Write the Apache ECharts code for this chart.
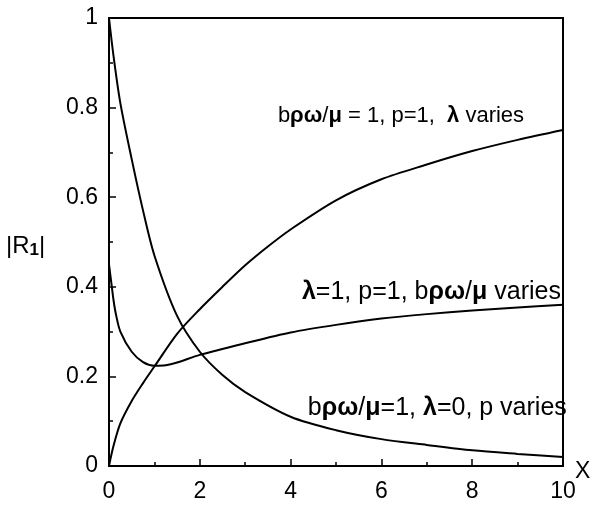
<!DOCTYPE html>
<html>
<head>
<meta charset="utf-8">
<script src="https://cdn.jsdelivr.net/npm/echarts@6/dist/echarts.min.js"></script>
<style>
  html, body { margin: 0; padding: 0; background: #fff; }
  #main { width: 591px; height: 506px; }
</style>
</head>
<body>
<div id="main"></div>
<script>
// curve: bρω/μ = 1, p=1, λ varies
var lambdaX = [0, 0.1, 0.25, 0.5, 0.75, 1, 1.5, 2, 2.5, 3, 3.5, 4, 5, 6, 7, 8, 9, 10];
var lambdaY = [0, 0.045, 0.095, 0.145, 0.185, 0.222, 0.295, 0.35, 0.4, 0.448, 0.49, 0.528, 0.593, 0.64, 0.673, 0.703, 0.728, 0.75];

// curve: λ=1, p=1, bρω/μ varies
var bX = [0, 0.05, 0.1, 0.15, 0.25, 0.5, 0.75, 1, 1.25, 1.5, 2, 3, 4, 5, 6, 7, 8, 9, 10];
var bY = [0.45, 0.41, 0.37, 0.34, 0.3, 0.255, 0.232, 0.224, 0.225, 0.231, 0.248, 0.274, 0.298, 0.315, 0.329, 0.339, 0.347, 0.354, 0.36];

// curve: bρω/μ=1, λ=0, p varies
var pX = [0, 0.1, 0.25, 0.5, 0.75, 1, 1.5, 2, 2.5, 3, 4, 5, 6, 7, 8, 9, 10];
var pY = [1, 0.915, 0.81, 0.685, 0.57, 0.47, 0.335, 0.255, 0.203, 0.165, 0.11, 0.08, 0.06, 0.047, 0.035, 0.027, 0.02];

// annotation texts, their font size and where they sit (data units: left edge, vertical centre)
var noteText = [
  'b{g|ρω}/{g|μ} = 1, p=1,  {g|λ} varies',
  '{g|λ}=1, p=1, b{g|ρω}/{g|μ} varies',
  'b{g|ρω}/{g|μ}=1, {g|λ}=0, p varies'
];
var noteSize = [22, 25, 25];
var notePos = [[3.72, 0.781], [4.25, 0.388], [4.38, 0.129]];

function pairs(xs, ys) {
  var out = [];
  for (var i = 0; i < xs.length; i++) {
    out.push([xs[i], ys[i]]);
  }
  return out;
}

var FONT = '"Liberation Sans", Arial, Helvetica, sans-serif';

var myChart = echarts.init(document.getElementById('main'), null, { renderer: 'canvas' });

function lineSeries(data) {
  return {
    type: 'line',
    data: data,
    smooth: 0.3,
    showSymbol: false,
    silent: true,
    lineStyle: { color: '#000', width: 2 }
  };
}

var option = {
  animation: false,
  backgroundColor: '#fff',
  grid: {
    left: 109, right: 28, top: 18, bottom: 40,
    show: true, borderColor: '#000', borderWidth: 2, backgroundColor: 'transparent'
  },
  xAxis: {
    type: 'value',
    min: 0, max: 10, interval: 2,
    axisLine: { show: true, lineStyle: { color: '#000', width: 2 } },
    axisTick: { show: true, inside: true, length: 7, lineStyle: { color: '#000', width: 1.5 } },
    minorTick: { show: true, splitNumber: 2, length: 4, lineStyle: { color: '#000', width: 1.5 } },
    splitLine: { show: false },
    axisLabel: { color: '#000', fontSize: 23, fontFamily: FONT, margin: 14 }
  },
  yAxis: {
    type: 'value',
    min: 0, max: 1, interval: 0.2,
    axisLine: { show: true, lineStyle: { color: '#000', width: 2 } },
    axisTick: { show: true, inside: true, length: 7, lineStyle: { color: '#000', width: 1.5 } },
    minorTick: { show: true, splitNumber: 2, length: 4, lineStyle: { color: '#000', width: 1.5 } },
    splitLine: { show: false },
    axisLabel: { color: '#000', fontSize: 23, fontFamily: FONT, margin: 11 }
  },
  series: [
    lineSeries(pairs(lambdaX, lambdaY)),
    lineSeries(pairs(bX, bY)),
    lineSeries(pairs(pX, pY))
  ]
};
myChart.setOption(option);

// texts: annotations, y-axis title, x-axis title
var graphics = [];
for (var i = 0; i < noteText.length; i++) {
  var pt = myChart.convertToPixel({ gridIndex: 0 }, notePos[i]);
  graphics.push({
    type: 'text',
    x: pt[0], y: pt[1],
    style: {
      text: noteText[i],
      fill: '#000',
      font: noteSize[i] + 'px ' + FONT,
      verticalAlign: 'middle',
      rich: {
        g: { fontSize: noteSize[i], fontWeight: 'bold', fontFamily: FONT, fill: '#000' }
      }
    }
  });
}
graphics.push({
  type: 'text',
  left: 6, top: 234,
  style: {
    text: '|R{s|1}|',
    fill: '#000',
    font: '24px ' + FONT,
    rich: { s: { fontSize: 17, fontWeight: 'bold', fontFamily: FONT, fill: '#000', padding: [9, 0, 0, 0] } }
  }
});
graphics.push({
  type: 'text',
  left: 575, top: 460,
  style: { text: 'X', fill: '#000', font: '23px ' + FONT }
});
myChart.setOption({ graphic: graphics });
</script>
</body>
</html>
